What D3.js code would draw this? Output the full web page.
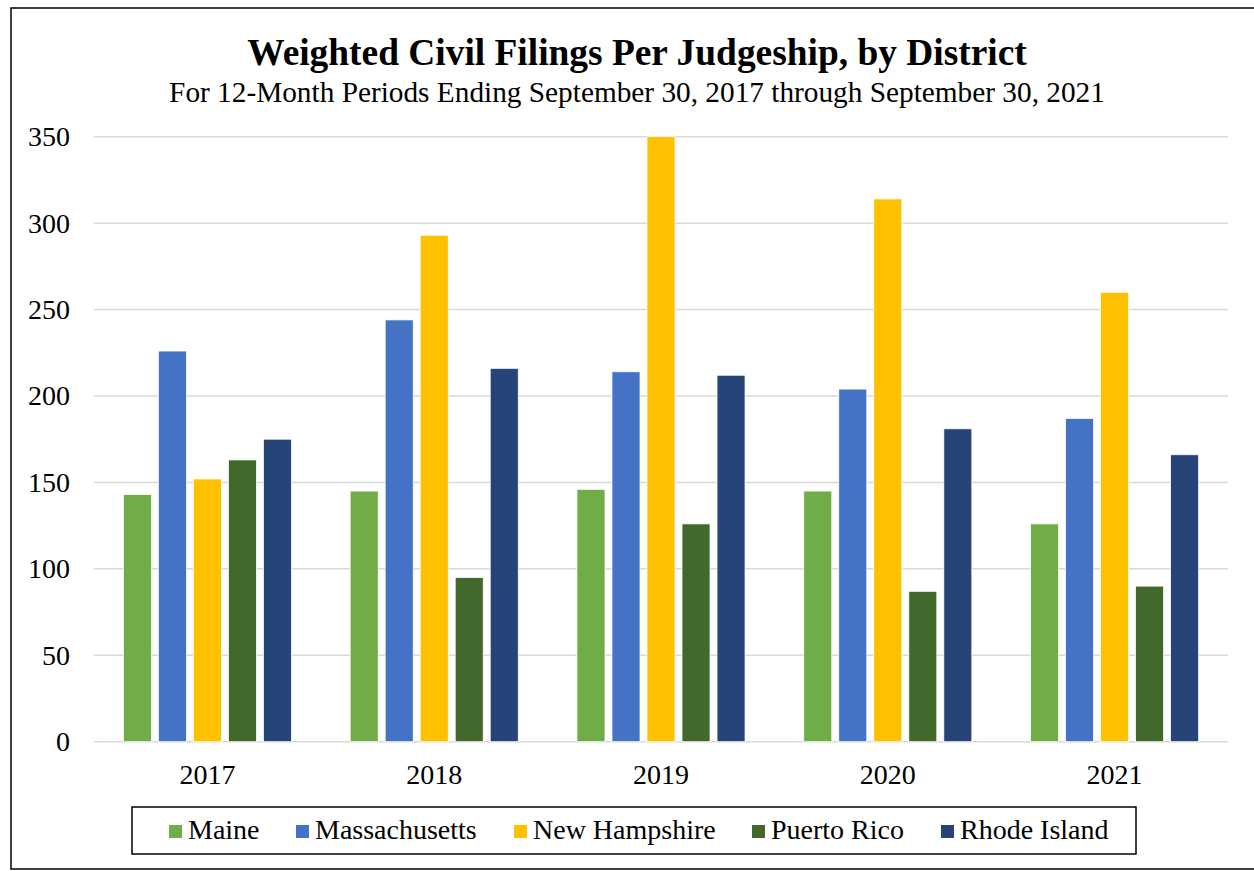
<!DOCTYPE html>
<html>
<head>
<meta charset="utf-8">
<script src="https://cdn.jsdelivr.net/npm/d3@7"></script>
<style>
  body { margin: 0; background: #fff; }
  svg text { font-family: "Liberation Serif", "Times New Roman", serif; fill: #000; }
</style>
</head>
<body>
<svg id="chart" width="1254" height="871"></svg>
<script>
// chart data
const years = ["2017", "2018", "2019", "2020", "2021"];
const districts = ["Maine", "Massachusetts", "New Hampshire", "Puerto Rico", "Rhode Island"];
const maine = [143, 145, 146, 145, 126];
const massachusetts = [226, 244, 214, 204, 187];
const newHampshire = [152, 293, 350, 314, 260];
const puertoRico = [163, 95, 126, 87, 90];
const rhodeIsland = [175, 216, 212, 181, 166];
const yTicks = [0, 50, 100, 150, 200, 250, 300, 350];

const colors = ["#70AD47", "#4472C4", "#FFC000", "#43682B", "#264478"];
const seriesValues = [maine, massachusetts, newHampshire, puertoRico, rhodeIsland];

const svg = d3.select("#chart");

// outer frame (right edge runs off the canvas)
svg.append("rect")
    .attr("x", 11).attr("y", 8)
    .attr("width", 1260).attr("height", 861)
    .attr("fill", "none").attr("stroke", "#000").attr("stroke-width", 1.5);

// titles
svg.append("text")
    .attr("x", 637).attr("y", 65)
    .attr("text-anchor", "middle")
    .style("font-size", "37.4px").style("font-weight", "bold")
    .text("Weighted Civil Filings Per Judgeship, by District");

svg.append("text")
    .attr("x", 637).attr("y", 102)
    .attr("text-anchor", "middle")
    .style("font-size", "29.3px")
    .text("For 12-Month Periods Ending September 30, 2017 through September 30, 2021");

const plot = { left: 94, right: 1228, top: 136.7, bottom: 741.7 };

const x0 = d3.scaleBand()
    .domain(years)
    .range([plot.left, plot.right])
    .paddingInner(0.259)
    .paddingOuter(0.1295);

const x1 = d3.scaleBand()
    .domain(districts)
    .range([0, x0.bandwidth()])
    .paddingInner(0.2);

const y = d3.scaleLinear()
    .domain([0, 350])
    .range([plot.bottom, plot.top]);

// gridlines
svg.append("g")
    .selectAll("line")
    .data(yTicks)
    .join("line")
    .attr("x1", plot.left).attr("x2", plot.right)
    .attr("y1", d => y(d)).attr("y2", d => y(d))
    .attr("stroke", "#D9D9D9").attr("stroke-width", 1.5);

// y axis labels
const yAxis = svg.append("g")
    .attr("transform", `translate(${plot.left - 24},0)`)
    .call(d3.axisLeft(y).tickValues(yTicks).tickSize(0).tickPadding(0));
yAxis.select(".domain").remove();
yAxis.selectAll("text")
    .style("font-size", "28px")
    .style("font-family", "Liberation Serif, serif")
    .attr("fill", "#000");

// bars
const groups = svg.append("g")
    .selectAll("g")
    .data(years)
    .join("g")
    .attr("transform", d => `translate(${x0(d)},0)`);

groups.selectAll("rect")
    .data((yr, i) => districts.map((name, k) => ({ name, k, value: seriesValues[k][i] })))
    .join("rect")
    .attr("x", d => x1(d.name))
    .attr("y", d => y(d.value))
    .attr("width", x1.bandwidth())
    .attr("height", d => y(0) - y(d.value))
    .attr("fill", d => colors[d.k])
    .attr("stroke", "#fff")
    .attr("stroke-width", 0.75);

// x axis labels
const xAxis = svg.append("g")
    .attr("transform", `translate(0,${plot.bottom + 22})`)
    .call(d3.axisBottom(x0).tickSize(0).tickPadding(0));
xAxis.select(".domain").remove();
xAxis.selectAll("text")
    .attr("dy", "0.71em")
    .style("font-size", "28px")
    .style("font-family", "Liberation Serif, serif")
    .attr("fill", "#000");

// legend
const legend = svg.append("g");
legend.append("rect")
    .attr("x", 132).attr("y", 807)
    .attr("width", 1004).attr("height", 47)
    .attr("fill", "#fff").attr("stroke", "#000").attr("stroke-width", 1.5);

const legendX = [169, 296, 514, 752, 941];
const items = legend.selectAll("g.item")
    .data(districts)
    .join("g")
    .attr("class", "item")
    .attr("transform", (d, i) => `translate(${legendX[i]},0)`);

items.append("rect")
    .attr("x", 0).attr("y", 825)
    .attr("width", 13).attr("height", 13)
    .attr("fill", (d, i) => colors[i]);

items.append("text")
    .attr("x", 19).attr("y", 839)
    .style("font-size", "28px")
    .text(d => d);
</script>
</body>
</html>
